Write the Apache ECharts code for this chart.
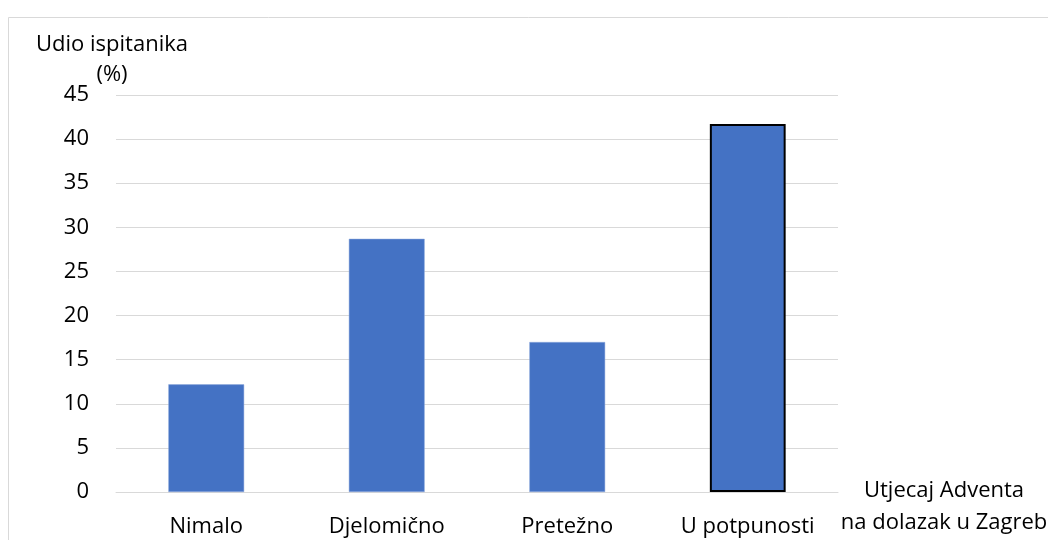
<!DOCTYPE html>
<html>
<head>
<meta charset="utf-8">
<script src="https://cdn.jsdelivr.net/npm/echarts@6/dist/echarts.min.js"></script>
<style>
  html, body { margin: 0; padding: 0; background: #fff; }
  #chart { width: 1048px; height: 540px; }
</style>
</head>
<body>
<div id="chart"></div>
<script>
// Survey: influence of Advent on coming to Zagreb
const categories = ['Nimalo', 'Djelomično', 'Pretežno', 'U potpunosti'];
const shares = [12.2, 28.7, 17.0, 41.7];
const yTicks = { min: 0, max: 45, interval: 5 };
const yTitle = 'Udio ispitanika\n(%)';
const xTitle = 'Utjecaj Adventa\nna dolazak u Zagreb';
const highlightIndex = 3;

const FONT = '"Open Sans", "Noto Sans", sans-serif';
const FS = 22;

const chart = echarts.init(document.getElementById('chart'), null, { renderer: 'canvas' });

chart.setOption({
  backgroundColor: '#ffffff',
  animation: false,
  textStyle: { fontFamily: FONT },
  graphic: [{
    type: 'rect',
    silent: true,
    shape: { x: 8.5, y: 17.5, width: 1200, height: 700 },
    style: { fill: 'none', stroke: '#d9d9d9', lineWidth: 1 }
  }, {
    // vertical axis title, above the value axis
    type: 'text',
    silent: true,
    x: 112,
    y: 30,
    style: {
      text: yTitle,
      font: FS + 'px ' + FONT,
      fill: '#000',
      align: 'center',
      verticalAlign: 'top',
      lineHeight: 30
    }
  }, {
    // horizontal axis title, placed to the right of the plot
    type: 'text',
    silent: true,
    x: 944,
    y: 475,
    style: {
      text: xTitle,
      font: FS + 'px ' + FONT,
      fill: '#000',
      align: 'center',
      verticalAlign: 'top',
      lineHeight: 32
    }
  }],
  grid: { left: 116, right: 210, top: 95, bottom: 48, containLabel: false },
  xAxis: {
    type: 'category',
    data: categories,
    axisLine: { show: true, lineStyle: { color: '#d9d9d9', width: 1 } },
    axisTick: { show: false },
    axisLabel: { fontFamily: FONT, fontSize: FS, color: '#000', margin: 24 }
  },
  yAxis: {
    type: 'value',
    min: yTicks.min,
    max: yTicks.max,
    interval: yTicks.interval,
    axisLine: { show: false },
    axisTick: { show: false },
    axisLabel: { fontFamily: FONT, fontSize: FS, color: '#000', margin: 27 },
    splitLine: { show: true, lineStyle: { color: '#d9d9d9', width: 1 } }
  },
  series: [{
    type: 'bar',
    barWidth: '42%',
    data: shares.map((v, i) => i === highlightIndex
      ? { value: v, itemStyle: { color: '#4472C4', borderColor: '#000', borderWidth: 2 } }
      : { value: v, itemStyle: { color: '#4472C4', borderColor: '#8faadc', borderWidth: 0.5 } })
  }]
});
</script>
</body>
</html>
